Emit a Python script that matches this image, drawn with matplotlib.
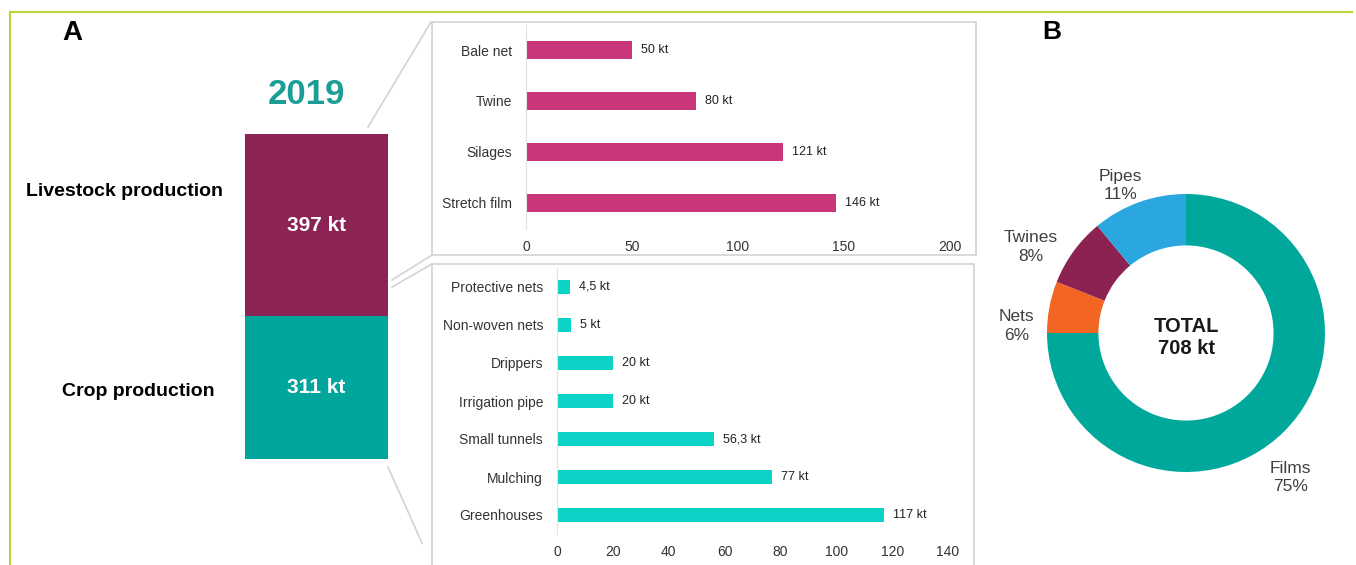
import matplotlib.pyplot as plt
from matplotlib.lines import Line2D
from matplotlib.patches import Rectangle

plt.rcParams["font.family"] = ["Liberation Sans", "DejaVu Sans"]

W, H = 1356, 565

# data
totals_labels = ["Crop production", "Livestock production"]
totals_values = [311, 397]
year = "2019"

livestock_items = ["Bale net", "Twine", "Silages", "Stretch film"]
livestock_values = [50, 80, 121, 146]
livestock_text = ["50 kt", "80 kt", "121 kt", "146 kt"]

crop_items = ["Protective nets", "Non-woven nets", "Drippers", "Irrigation pipe",
              "Small tunnels", "Mulching", "Greenhouses"]
crop_values = [4.5, 5, 20, 20, 56.3, 77, 117]
crop_text = ["4,5 kt", "5 kt", "20 kt", "20 kt", "56,3 kt", "77 kt", "117 kt"]

share_labels = ["Films", "Nets", "Twines", "Pipes"]
share_values = [75, 6, 8, 11]
total_kt = 708

MAROON = "#8B2454"
TEAL = "#00A69B"
PINK = "#C8377A"
TURQ = "#0CD3C5"
GREY_LINE = "#D3D3D3"


def px_rect(x0, y0, x1, y1):
    return [x0 / W, 1 - y1 / H, (x1 - x0) / W, (y1 - y0) / H]


def fx(x):
    return x / W


def fy(y):
    return 1 - y / H


fig = plt.figure(figsize=(W / 100, H / 100), dpi=100)

# green frame
fig.add_artist(Line2D([fx(10), fx(1352)], [fy(11.5), fy(11.5)], color="#B9D43A", lw=1.5))
fig.add_artist(Line2D([fx(10), fx(10)], [fy(11.5), fy(565)], color="#B9D43A", lw=1.5))

# panel letters
fig.text(fx(72), fy(33), "A", fontsize=20, fontweight="bold", ha="center", va="center")
fig.text(fx(1052), fy(32), "B", fontsize=19, fontweight="bold", ha="center", va="center")

# stacked total bar
axt = fig.add_axes(px_rect(245, 134, 388, 459))
bottom = 0
for val, col in zip(totals_values, [TEAL, MAROON]):
    axt.bar(0, val, bottom=bottom, width=1, color=col)
    axt.text(0, bottom + val * 0.5, f"{val} kt",
             color="white", fontsize=15, fontweight="bold", ha="center", va="center")
    bottom += val
axt.set_xlim(-0.5, 0.5)
axt.set_ylim(0, sum(totals_values))
axt.axis("off")
fig.text(fx(306), fy(95), year, color="#1A9E96", fontsize=25, fontweight="bold",
         ha="center", va="center")
fig.text(fx(124), fy(192), totals_labels[1], fontsize=14, fontweight="bold",
         ha="center", va="center")
fig.text(fx(138), fy(392), totals_labels[0], fontsize=14, fontweight="bold",
         ha="center", va="center")

# boxes and connectors
for (x0, y0, x1, y1) in [(432, 22, 976, 255), (432, 264, 974, 570)]:
    fig.add_artist(Rectangle((fx(x0), fy(y1)), fx(x1 - x0), (y1 - y0) / H,
                             fill=False, edgecolor=GREY_LINE, lw=1.2))
for (xa, ya, xb, yb) in [(368, 127, 431, 22), (392, 280, 432, 255),
                         (392, 287, 432, 264), (388, 467, 422, 543)]:
    fig.add_artist(Line2D([fx(xa), fx(xb)], [fy(ya), fy(yb)], color=GREY_LINE, lw=1.2))


def hbar_panel(rect, items, values, texts, color, xmax, step, unit_px):
    ax = fig.add_axes(rect)
    pos = list(range(len(items)))
    ax.barh(pos, values, height=0.36, color=color)
    for p, v, t in zip(pos, values, texts):
        ax.text(v + 9 / unit_px, p, t, fontsize=9, va="center", ha="left", color="#222222")
    ax.set_yticks(pos)
    ax.set_yticklabels(items, fontsize=10, color="#222222")
    ax.set_ylim(len(items) - 0.5, -0.5)
    ax.set_xlim(0, xmax)
    ax.set_xticks(range(0, xmax + 1, step))
    ax.tick_params(axis="both", length=0, labelsize=10, colors="#333333")
    ax.tick_params(axis="y", pad=10, labelsize=10)
    ax.tick_params(axis="x", pad=8)
    for s in ["top", "right", "bottom"]:
        ax.spines[s].set_visible(False)
    ax.spines["left"].set_color("#E2E2E2")
    ax.patch.set_alpha(0)
    return ax


hbar_panel(px_rect(526, 24.5, 950, 228.5), livestock_items, livestock_values,
           livestock_text, PINK, 200, 50, 424 / 200)
hbar_panel(px_rect(557, 268, 948, 534), crop_items, crop_values,
           crop_text, TURQ, 140, 20, 391 / 140)

# donut
R = 139
axd = fig.add_axes(px_rect(1186 - 1.5 * R, 333 - 1.5 * R, 1186 + 1.5 * R, 333 + 1.5 * R))
axd.pie(share_values, colors=["#00A89C", "#F26522", "#8C2252", "#2BA7DF"],
        startangle=90, counterclock=False, radius=1,
        wedgeprops=dict(width=0.37, edgecolor="none"))
axd.set_xlim(-1.5, 1.5)
axd.set_ylim(-1.5, 1.5)
axd.set_aspect("equal")
axd.axis("off")
label_pos = [(0.75, -1.04), (-1.22, 0.05), (-1.12, 0.62), (-0.47, 1.06)]
for lab, v, (lx, ly) in zip(share_labels, share_values, label_pos):
    axd.text(lx, ly, f"{lab}\n{v}%", fontsize=12.5, color="#404040",
             ha="center", va="center", linespacing=1.3)
axd.text(0, -0.03, f"TOTAL\n{total_kt} kt", fontsize=14.5, fontweight="bold",
         color="#1A1A1A", ha="center", va="center", linespacing=1.2)

fig.savefig("out.png", dpi=100)
